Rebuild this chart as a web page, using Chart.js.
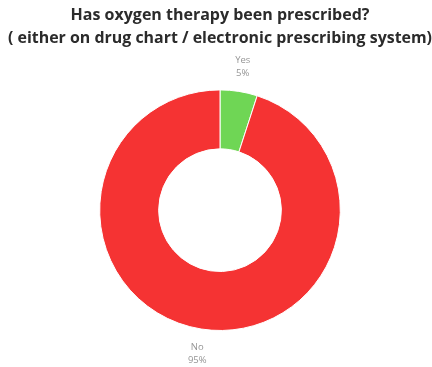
<!DOCTYPE html>
<html>
<head>
<meta charset="utf-8">
<script src="https://cdn.jsdelivr.net/npm/chart.js@4.4.0/dist/chart.umd.min.js"></script>
<style>
  html, body { margin: 0; padding: 0; background: #fff; }
  #wrap { width: 432px; height: 367px; }
</style>
</head>
<body>
<div id="wrap"><canvas id="oxygenChart" width="432" height="367"></canvas></div>
<script>
// Data
const labels = ['Yes', 'No'];
const values = [5, 95];
const colors = ['#6fd655', '#f53333'];
const titleLines = [
    'Has oxygen therapy been prescribed?',
    '( either on drug chart / electronic prescribing system)'
];

// Labels outside the ring: name and percentage
const outsideLabels = {
    id: 'outsideLabels',
    afterDatasetsDraw(chart) {
        const ctx = chart.ctx;
        const meta = chart.getDatasetMeta(0);
        const total = values.reduce((a, b) => a + b, 0);
        ctx.save();
        ctx.font = '9.5px "Open Sans", sans-serif';
        ctx.fillStyle = '#959595';
        ctx.textAlign = 'center';
        ctx.textBaseline = 'middle';
        meta.data.forEach((arc, i) => {
            const p = arc.getProps(['x', 'y', 'startAngle', 'endAngle', 'outerRadius'], true);
            const mid = (p.startAngle + p.endAngle) / 2;
            const r = p.outerRadius + 25;
            const x = p.x + Math.cos(mid) * r;
            const y = p.y + Math.sin(mid) * r;
            const pct = Math.round(values[i] / total * 100) + '%';
            ctx.fillText(labels[i], x, y - 6.5);
            ctx.fillText(pct, x, y + 6.5);
        });
        ctx.restore();
    }
};

new Chart(document.getElementById('oxygenChart').getContext('2d'), {
    type: 'doughnut',
    data: {
        labels: labels,
        datasets: [{
            data: values,
            backgroundColor: colors,
            borderColor: '#ffffff',
            borderWidth: 1
        }]
    },
    options: {
        responsive: false,
        animation: false,
        cutout: '51%',
        layout: {
            padding: { left: 8, right: 0, bottom: 36 }
        },
        plugins: {
            legend: { display: false },
            tooltip: { enabled: false },
            title: {
                display: true,
                text: titleLines,
                color: '#2b2b2b',
                font: { family: '"Open Sans", sans-serif', size: 16, weight: 'bold', lineHeight: 1.45 },
                padding: { top: 4, bottom: 39 }
            }
        }
    },
    plugins: [outsideLabels]
});
</script>
</body>
</html>
